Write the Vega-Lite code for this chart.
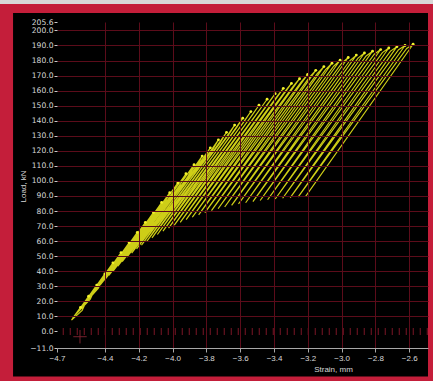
{
  "$schema": "https://vega.github.io/schema/vega-lite/v6.json",
  "width": 371,
  "height": 326,
  "autosize": {"type": "none"},
  "padding": {"left": 57, "top": 22, "right": 5, "bottom": 33},
  "background": "#000000",
  "config": {"view": {"stroke": null}, "font": "Liberation Sans"},
  "datasets": {
    "curve": [
      {"i": 0, "s": -4.593, "l": 8.6, "k": "s"},
      {"i": 1, "s": -4.545, "l": 16.0, "k": "p"}, {"i": 2, "s": -4.598, "l": 7.5, "k": "m"}, {"i": 3, "s": -4.535, "l": 14.0, "k": "r"},
      {"i": 4, "s": -4.497, "l": 23.4, "k": "p"}, {"i": 5, "s": -4.575, "l": 11.0, "k": "m"}, {"i": 6, "s": -4.487, "l": 21.4, "k": "r"},
      {"i": 7, "s": -4.449, "l": 30.8, "k": "p"}, {"i": 8, "s": -4.552, "l": 14.5, "k": "m"}, {"i": 9, "s": -4.439, "l": 28.8, "k": "r"},
      {"i": 10, "s": -4.401, "l": 38.2, "k": "p"}, {"i": 11, "s": -4.528, "l": 18.0, "k": "m"}, {"i": 12, "s": -4.391, "l": 36.2, "k": "r"},
      {"i": 13, "s": -4.353, "l": 45.6, "k": "p"}, {"i": 14, "s": -4.505, "l": 21.4, "k": "m"}, {"i": 15, "s": -4.343, "l": 43.6, "k": "r"},
      {"i": 16, "s": -4.305, "l": 52.4, "k": "p"}, {"i": 17, "s": -4.480, "l": 24.6, "k": "m"}, {"i": 18, "s": -4.295, "l": 50.4, "k": "r"},
      {"i": 19, "s": -4.257, "l": 59.1, "k": "p"}, {"i": 20, "s": -4.454, "l": 27.8, "k": "m"}, {"i": 21, "s": -4.247, "l": 57.1, "k": "r"},
      {"i": 22, "s": -4.209, "l": 65.8, "k": "p"}, {"i": 23, "s": -4.428, "l": 30.9, "k": "m"}, {"i": 24, "s": -4.199, "l": 63.8, "k": "r"},
      {"i": 25, "s": -4.161, "l": 72.5, "k": "p"}, {"i": 26, "s": -4.403, "l": 34.1, "k": "m"}, {"i": 27, "s": -4.151, "l": 70.5, "k": "r"},
      {"i": 28, "s": -4.113, "l": 79.1, "k": "p"}, {"i": 29, "s": -4.377, "l": 37.2, "k": "m"}, {"i": 30, "s": -4.103, "l": 77.1, "k": "r"},
      {"i": 31, "s": -4.065, "l": 85.7, "k": "p"}, {"i": 32, "s": -4.351, "l": 40.3, "k": "m"}, {"i": 33, "s": -4.055, "l": 83.7, "k": "r"},
      {"i": 34, "s": -4.017, "l": 92.2, "k": "p"}, {"i": 35, "s": -4.324, "l": 43.3, "k": "m"}, {"i": 36, "s": -4.007, "l": 90.2, "k": "r"},
      {"i": 37, "s": -3.969, "l": 98.7, "k": "p"}, {"i": 38, "s": -4.298, "l": 46.4, "k": "m"}, {"i": 39, "s": -3.959, "l": 96.7, "k": "r"},
      {"i": 40, "s": -3.921, "l": 104.8, "k": "p"}, {"i": 41, "s": -4.270, "l": 49.3, "k": "m"}, {"i": 42, "s": -3.911, "l": 102.8, "k": "r"},
      {"i": 43, "s": -3.873, "l": 110.8, "k": "p"}, {"i": 44, "s": -4.242, "l": 52.1, "k": "m"}, {"i": 45, "s": -3.863, "l": 108.8, "k": "r"},
      {"i": 46, "s": -3.825, "l": 116.5, "k": "p"}, {"i": 47, "s": -4.213, "l": 54.8, "k": "m"}, {"i": 48, "s": -3.815, "l": 114.5, "k": "r"},
      {"i": 49, "s": -3.777, "l": 122.0, "k": "p"}, {"i": 50, "s": -4.184, "l": 57.3, "k": "m"}, {"i": 51, "s": -3.767, "l": 120.0, "k": "r"},
      {"i": 52, "s": -3.729, "l": 127.3, "k": "p"}, {"i": 53, "s": -4.153, "l": 59.8, "k": "m"}, {"i": 54, "s": -3.719, "l": 125.3, "k": "r"},
      {"i": 55, "s": -3.681, "l": 132.3, "k": "p"}, {"i": 56, "s": -4.122, "l": 62.2, "k": "m"}, {"i": 57, "s": -3.671, "l": 130.3, "k": "r"},
      {"i": 58, "s": -3.633, "l": 137.1, "k": "p"}, {"i": 59, "s": -4.090, "l": 64.4, "k": "m"}, {"i": 60, "s": -3.623, "l": 135.1, "k": "r"},
      {"i": 61, "s": -3.585, "l": 141.7, "k": "p"}, {"i": 62, "s": -4.057, "l": 66.6, "k": "m"}, {"i": 63, "s": -3.575, "l": 139.7, "k": "r"},
      {"i": 64, "s": -3.537, "l": 146.1, "k": "p"}, {"i": 65, "s": -4.024, "l": 68.7, "k": "m"}, {"i": 66, "s": -3.527, "l": 144.1, "k": "r"},
      {"i": 67, "s": -3.489, "l": 150.3, "k": "p"}, {"i": 68, "s": -3.990, "l": 70.6, "k": "m"}, {"i": 69, "s": -3.479, "l": 148.3, "k": "r"},
      {"i": 70, "s": -3.441, "l": 154.3, "k": "p"}, {"i": 71, "s": -3.955, "l": 72.5, "k": "m"}, {"i": 72, "s": -3.431, "l": 152.3, "k": "r"},
      {"i": 73, "s": -3.393, "l": 158.0, "k": "p"}, {"i": 74, "s": -3.920, "l": 74.3, "k": "m"}, {"i": 75, "s": -3.383, "l": 156.0, "k": "r"},
      {"i": 76, "s": -3.345, "l": 161.5, "k": "p"}, {"i": 77, "s": -3.883, "l": 75.9, "k": "m"}, {"i": 78, "s": -3.335, "l": 159.5, "k": "r"},
      {"i": 79, "s": -3.297, "l": 164.8, "k": "p"}, {"i": 80, "s": -3.846, "l": 77.5, "k": "m"}, {"i": 81, "s": -3.287, "l": 162.8, "k": "r"},
      {"i": 82, "s": -3.249, "l": 167.9, "k": "p"}, {"i": 83, "s": -3.809, "l": 78.9, "k": "m"}, {"i": 84, "s": -3.239, "l": 165.9, "k": "r"},
      {"i": 85, "s": -3.201, "l": 170.8, "k": "p"}, {"i": 86, "s": -3.770, "l": 80.3, "k": "m"}, {"i": 87, "s": -3.191, "l": 168.8, "k": "r"},
      {"i": 88, "s": -3.153, "l": 173.5, "k": "p"}, {"i": 89, "s": -3.731, "l": 81.5, "k": "m"}, {"i": 90, "s": -3.143, "l": 171.5, "k": "r"},
      {"i": 91, "s": -3.105, "l": 176.0, "k": "p"}, {"i": 92, "s": -3.692, "l": 82.7, "k": "m"}, {"i": 93, "s": -3.095, "l": 174.0, "k": "r"},
      {"i": 94, "s": -3.057, "l": 178.2, "k": "p"}, {"i": 95, "s": -3.651, "l": 83.8, "k": "m"}, {"i": 96, "s": -3.047, "l": 176.2, "k": "r"},
      {"i": 97, "s": -3.009, "l": 180.2, "k": "p"}, {"i": 98, "s": -3.610, "l": 84.7, "k": "m"}, {"i": 99, "s": -2.999, "l": 178.2, "k": "r"},
      {"i": 100, "s": -2.961, "l": 182.0, "k": "p"}, {"i": 101, "s": -3.568, "l": 85.5, "k": "m"}, {"i": 102, "s": -2.951, "l": 180.0, "k": "r"},
      {"i": 103, "s": -2.913, "l": 183.6, "k": "p"}, {"i": 104, "s": -3.525, "l": 86.3, "k": "m"}, {"i": 105, "s": -2.903, "l": 181.6, "k": "r"},
      {"i": 106, "s": -2.865, "l": 185.0, "k": "p"}, {"i": 107, "s": -3.482, "l": 87.0, "k": "m"}, {"i": 108, "s": -2.855, "l": 183.0, "k": "r"},
      {"i": 109, "s": -2.817, "l": 186.2, "k": "p"}, {"i": 110, "s": -3.438, "l": 87.5, "k": "m"}, {"i": 111, "s": -2.807, "l": 184.2, "k": "r"},
      {"i": 112, "s": -2.769, "l": 187.3, "k": "p"}, {"i": 113, "s": -3.393, "l": 88.0, "k": "m"}, {"i": 114, "s": -2.759, "l": 185.3, "k": "r"},
      {"i": 115, "s": -2.721, "l": 188.3, "k": "p"}, {"i": 116, "s": -3.349, "l": 88.5, "k": "m"}, {"i": 117, "s": -2.711, "l": 186.3, "k": "r"},
      {"i": 118, "s": -2.673, "l": 189.2, "k": "p"}, {"i": 119, "s": -3.304, "l": 88.9, "k": "m"}, {"i": 120, "s": -2.663, "l": 187.2, "k": "r"},
      {"i": 121, "s": -2.625, "l": 190.0, "k": "p"}, {"i": 122, "s": -3.258, "l": 89.3, "k": "m"}, {"i": 123, "s": -2.615, "l": 188.0, "k": "r"},
      {"i": 124, "s": -2.577, "l": 190.8, "k": "p"}, {"i": 125, "s": -3.213, "l": 89.7, "k": "m"}
    ]
  },
  "layer": [
    {
      "data": {"name": "curve"},
      "mark": {"type": "line", "color": "#e4e41a", "strokeWidth": 1.15, "opacity": 0.9},
      "encoding": {
        "x": {
          "field": "s", "type": "quantitative",
          "scale": {"domain": [-4.684, -2.489], "nice": false, "zero": false},
          "axis": {
            "title": "Strain, mm",
            "values": [-4.684, -4.4, -4.2, -4.0, -3.8, -3.6, -3.4, -3.2, -3.0, -2.8, -2.6],
            "tickCount": 500,
            "labelExpr": "format(datum.value, '.1f')",
            "zindex": 1,
            "grid": true,
            "gridColor": {"condition": {"test": "datum.value < -4.6", "value": "transparent"}, "value": "#5c0c1a"},
            "gridWidth": 1,
            "domainColor": "#a8a8a8",
            "tickColor": "#a8a8a8",
            "tickSize": 4,
            "labelColor": "#d8d8d8",
            "labelFontSize": 8,
            "labelPadding": 2,
            "labelOverlap": false,
            "labelFlush": false,
            "labelBound": false,
            "titleColor": "#d8d8d8",
            "titleFontSize": 8,
            "titleFontWeight": "normal",
            "titleX": 276,
            "titleY": 21,
            "titleAlign": "center",
            "titleBaseline": "middle"
          }
        },
        "y": {
          "field": "l", "type": "quantitative",
          "scale": {"domain": [-11, 205.6], "nice": false, "zero": false},
          "axis": {
            "title": "Load, kN",
            "values": [-11, 0, 10, 20, 30, 40, 50, 60, 70, 80, 90, 100, 110, 120, 130, 140, 150, 160, 170, 180, 190, 200, 205.6],
            "tickCount": 500,
            "labelExpr": "format(datum.value, '.1f')",
            "zindex": 1,
            "grid": true,
            "gridColor": {"condition": {"test": "datum.value < 1 || datum.value > 205", "value": "transparent"}, "value": "#5c0c1a"},
            "gridWidth": 1,
            "domain": false,
            "tickColor": "#c8c8c8",
            "tickSize": 3,
            "labelColor": "#d8d8d8",
            "labelFont": "DejaVu Sans",
            "labelFontSize": 7.6,
            "labelPadding": 1,
            "labelOverlap": false,
            "labelBound": false,
            "labelFlush": false,
            "titleColor": "#d8d8d8",
            "titleFontSize": 8,
            "titleFontWeight": "normal",
            "titleX": -34,
            "titleY": 164,
            "titleAngle": -90,
            "titleAlign": "center",
            "titleBaseline": "middle"
          }
        },
        "order": {"field": "i", "type": "quantitative"}
      }
    },
    {
      "data": {"name": "curve"},
      "transform": [{"filter": "datum.k == 'p'"}],
      "mark": {"type": "point", "filled": true, "color": "#f2f22a", "size": 8, "opacity": 1},
      "encoding": {
        "x": {"field": "s", "type": "quantitative"},
        "y": {"field": "l", "type": "quantitative"}
      }
    },
    {
      "data": {"values": [{}]},
      "mark": {"type": "rule", "color": "#7a1626", "strokeWidth": 7, "strokeDash": [1, 6]},
      "encoding": {
        "y": {"datum": 0, "type": "quantitative"},
        "x": {"datum": -4.65, "type": "quantitative"},
        "x2": {"datum": -2.489}
      }
    },
    {
      "data": {"values": [{}]},
      "mark": {"type": "point", "shape": "M-1,0L1,0M0,-1L0,1", "filled": false, "stroke": "#a83040", "strokeWidth": 1, "size": 180},
      "encoding": {
        "x": {"datum": -4.548, "type": "quantitative"},
        "y": {"datum": -3.5, "type": "quantitative"}
      }
    },
    {
      "data": {"values": [{}]},
      "mark": {"type": "rect", "fill": "#c41e3a", "clip": false},
      "encoding": {
        "x": {"datum": -5.3, "type": "quantitative"},
        "x2": {"datum": -4.944},
        "y": {"datum": -45, "type": "quantitative"},
        "y2": {"datum": 230}
      }
    },
    {
      "data": {"values": [{}]},
      "mark": {"type": "rect", "fill": "#c41e3a", "clip": false},
      "encoding": {
        "x": {"datum": -2.489, "type": "quantitative"},
        "x2": {"datum": -2.3},
        "y": {"datum": -45, "type": "quantitative"},
        "y2": {"datum": 230}
      }
    },
    {
      "data": {"values": [{}]},
      "mark": {"type": "rect", "fill": "#c41e3a", "clip": false},
      "encoding": {
        "x": {"datum": -5.3, "type": "quantitative"},
        "x2": {"datum": -2.3},
        "y": {"datum": 211.6, "type": "quantitative"},
        "y2": {"datum": 217.6}
      }
    },
    {
      "data": {"values": [{}]},
      "mark": {"type": "rect", "fill": "#d8d8d8", "clip": false},
      "encoding": {
        "x": {"datum": -5.3, "type": "quantitative"},
        "x2": {"datum": -2.3},
        "y": {"datum": 217.6, "type": "quantitative"},
        "y2": {"datum": 230}
      }
    },
    {
      "data": {"values": [{}]},
      "mark": {"type": "rect", "fill": "#c41e3a", "clip": false},
      "encoding": {
        "x": {"datum": -5.3, "type": "quantitative"},
        "x2": {"datum": -2.3},
        "y": {"datum": -29.9, "type": "quantitative"},
        "y2": {"datum": -45}
      }
    }
  ]
}
